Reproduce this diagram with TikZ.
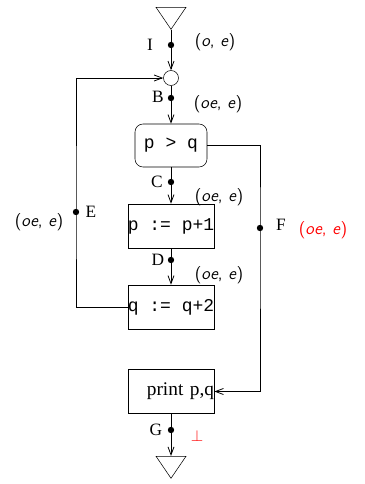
\documentclass[tikz,border=0pt]{standalone}
\usepackage{fontspec}
\setmainfont{Liberation Serif}
\setmonofont{Liberation Mono}
\usetikzlibrary{arrows.meta,positioning,shapes.geometric}
\usepackage{xcolor}
\tikzset{
  stmtbox/.style={draw,rectangle,inner sep=0pt,minimum width=64.5pt,
    minimum height=33pt,font=\fontsize{13.5}{16}\selectfont\ttfamily},
  testbox/.style={draw,rounded corners=6pt,inner sep=0pt,minimum width=54pt,
    minimum height=32.25pt,font=\fontsize{13.5}{16}\selectfont\ttfamily},
  printbox/.style={draw,rectangle,inner sep=0pt,text width=64.5pt,
    minimum height=33pt,align=right,font=\fontsize{14.5}{17}\selectfont},
  joinnode/.style={draw,circle,inner sep=0pt,minimum size=11.25pt},
  dotnode/.style={circle,fill=black,inner sep=0pt,minimum size=4.8pt},
  termnode/.style={draw,isosceles triangle,shape border rotate=270,
    isosceles triangle stretches,inner sep=0pt,
    minimum width=22.5pt,minimum height=16.5pt},
  flow/.style={-{Straight Barb[length=6pt,width=4.5pt]},line width=0.6pt},
  lbl/.style={inner sep=0pt,font=\fontsize{13}{15}\selectfont},
  annot/.style={inner sep=0pt,font=\fontsize{13}{15}\selectfont\sffamily},
}

\begin{document}
\begin{tikzpicture}[x=0.75pt,y=-0.75pt]
  \useasboundingbox (0,0) rectangle (364,484);
  % statements
  \node[termnode,anchor=south] (start) at (171,30) {};
  \node[joinnode] (merge) at (171,78) {};
  \node[testbox] (test) at (171,145.5) {p > q};
  \node[stmtbox] (pinc) at (171,226) {p := p+1};
  \node[stmtbox] (qinc) at (171,307) {q := q+2};
  \node[printbox] (print) at (171,391.5) {print p,q};
  \node[termnode,anchor=north] (stop) at (171,456) {};
  % edge points
  \node[dotnode] (I) at (171,45) {};
  \node[dotnode] (B) at (171,98) {};
  \node[dotnode] (C) at (171,182) {};
  \node[dotnode] (D) at (171,260) {};
  \node[dotnode] (E) at (76,212) {};
  \node[dotnode] (F) at (260,228) {};
  \node[dotnode] (G) at (171,430) {};
  % names and values
  \node[lbl] (Ilbl) at (150,45) {I};
  \node[lbl] (Blbl) at (158,97) {B};
  \node[lbl] (Clbl) at (157,182) {C};
  \node[lbl] (Dlbl) at (158,260) {D};
  \node[lbl] (Elbl) at (91,212) {E};
  \node[lbl] (Flbl) at (281,225) {F};
  \node[lbl] (Glbl) at (156,430) {G};
  \node[annot] (Ival) at (215,42) {(\textit{o}, \textit{e})};
  \node[annot] (Bval) at (218,104) {(\textit{oe}, \textit{e})};
  \node[annot] (Cval) at (219,197) {(\textit{oe}, \textit{e})};
  \node[annot] (Dval) at (219,275) {(\textit{oe}, \textit{e})};
  \node[annot] (Eval) at (39,222) {(\textit{oe}, \textit{e})};
  \node[annot,text=red] (Fval) at (323,230) {(\textit{oe}, \textit{e})};
  \node[lbl,text=red] (Gval) at (197,436) {$\bot$};
  % flow
  \draw[flow] (start.south) -- (merge);
  \draw[flow] (merge) -- (test);
  \draw[flow] (test) -- (pinc);
  \draw[flow] (pinc) -- (qinc);
  \draw[flow] (qinc.west) -| (E.center) |- (merge.west);
  \draw[flow] (test.east) -| (F.center) |- (print.east);
  \draw[flow] (print) -- (stop.north);
\end{tikzpicture}
\end{document}
